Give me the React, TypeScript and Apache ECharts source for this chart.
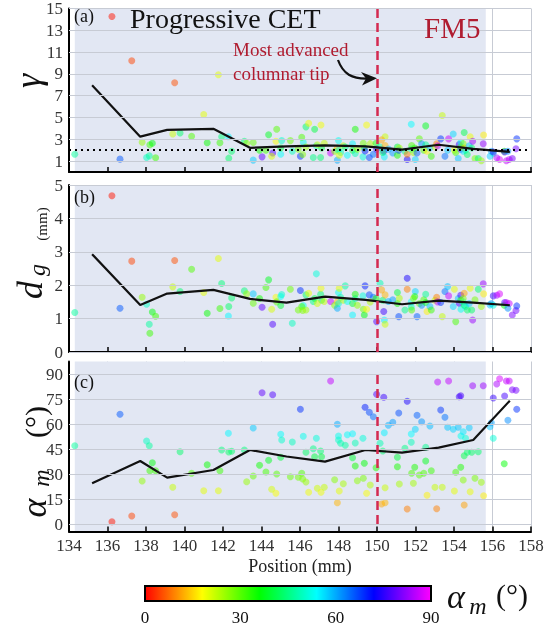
import React, { useEffect, useRef } from 'react';
import * as echarts from 'echarts';

// grain positions (mm) and measured quantities
const grainX = [134.3,136.23,136.65,137.26,137.8,138.03,138.17,138.2,138.33,138.5,
139.39,139.49,139.77,140.37,141.0,141.18,141.76,141.84,141.93,142.28,
142.3,142.45,143.11,143.23,143.57,143.57,144.03,144.58,143.9,144.37,
144.23,144.53,144.75,144.79,145.0,145.05,145.0,145.6,145.5,146.02,
146.17,146.09,145.91,146.14,146.31,146.31,146.45,146.69,146.76,146.85,
147.07,147.12,146.9,147.09,147.26,147.59,147.8,147.94,147.94,148.0,
148.0,148.11,148.04,148.25,148.35,148.46,148.73,148.73,148.87,148.87,
148.98,149.27,149.29,149.34,149.38,149.46,149.6,149.81,149.65,149.95,
149.98,150.35,150.38,150.16,150.3,150.42,150.24,150.42,150.59,150.82,
151.06,151.06,151.13,151.16,151.45,151.57,151.57,151.78,151.78,151.8,
151.89,151.99,151.96,152.08,152.2,152.32,152.43,152.53,152.53,152.6,
152.75,152.82,153.01,153.1,153.15,153.31,153.39,153.53,153.67,153.72,
153.96,154.02,154.09,154.22,154.27,154.35,154.35,154.36,154.48,154.53,
154.48,154.53,154.6,154.69,154.79,154.84,154.92,154.97,155.09,155.26,
155.42,155.52,155.54,155.87,155.94,156.04,156.04,156.22,156.37,156.61,
156.63,156.72,156.87,156.8,157.03,157.22,157.26];

const grainAlpha = [47,1.4,65.8,4.8,25.8,49.8,47,32,36.8,32,
22,5.6,43.4,30.4,20,35.6,20,32,44.4,54.4,
43.2,43.6,44.4,25.4,57.6,28.8,78.8,77.6,35.2,38.2,
31.2,20.8,18.4,30,53.8,50.4,40,49.2,28.4,68.8,
52.6,30.4,28,27,43,25.2,19,45.2,40.4,51.4,
43.8,40.4,21.4,19,22,85.8,26.6,59.8,12.8,52.8,
50.4,48.4,19.8,24.2,47.2,53.6,54.2,39.8,48.6,34.8,
26,51.4,27.4,36.4,70,18.4,67,64.4,23.4,33.8,
77.8,76,54.8,48.4,43.8,21.8,12,12.8,59.2,61,
40,34.4,66.6,24,45.4,73.6,9,54,49,30.4,
24.4,56.8,34,65.2,29.4,61.4,30.4,46,37.8,17.2,
58.8,32,22,9.2,85.2,68.4,22,64,58,85.8,
56.8,19.8,31,58,76.4,77,34,52.8,55.4,11.4,
26.4,41,51.4,43,57.8,19.4,43,83,27.4,43.4,
25,83,17,58.4,60.8,51.4,75.6,84,87.2,36.2,
76.8,85.8,85.8,62.2,80.6,80.2,68.8];

const grainGamma = [1.63,14.26,1.18,10.2,2.73,1.33,1.48,2.5,2.64,1.3,
3.49,8.18,3.58,3.27,5.28,2.68,8.93,2.68,3.24,3.24,
1.27,1.9,2.82,2.64,1.09,2.7,1.39,1.75,1.99,3.42,
1.99,1.45,2.82,3.93,1.63,2.88,2.2,1.9,2.88,1.45,
2.73,3.18,2.1,1.6,4.14,2.3,4.47,1.33,3.93,2.4,
1.33,2.2,2.5,4.32,2.64,1.75,1.9,1.09,2.2,2.88,
2.0,1.8,1.54,2.4,2.3,1.54,2.59,2.0,1.7,3.93,
2.1,1.39,2.64,2.2,1.92,4.32,1.33,1.63,2.6,2.64,
2.1,1.9,1.39,2.3,1.8,3.24,2.95,2.43,2.1,1.75,
2.28,1.54,2.0,2.2,1.9,1.15,1.63,4.38,2.1,2.43,
1.8,1.15,2.2,1.75,3.04,2.59,2.0,2.5,4.23,1.9,
2.2,1.45,2.3,2.59,2.4,3.04,5.19,1.45,2.0,3.04,
3.49,2.0,1.8,1.24,2.53,2.1,2.3,2.73,1.9,2.2,
2.6,3.63,2.0,1.6,2.4,3.24,2.2,2.82,1.24,1.24,
1.03,2.59,3.39,1.45,1.9,1.7,1.84,1.3,1.15,1.9,
1.84,1.03,1.15,1.9,1.24,2.14,3.04];

const grainDg = [1.18,4.68,1.31,2.72,1.64,1.43,0.83,0.56,1.2,1.07,
1.95,2.74,1.81,2.48,1.78,1.16,2.8,1.3,2.05,1.08,
1.36,1.62,1.83,1.74,1.74,1.46,1.34,0.83,1.6,2.16,
1.93,1.28,1.64,1.5,1.66,1.72,1.39,0.86,1.88,1.84,
1.39,1.36,1.26,1.24,1.71,1.26,1.76,1.51,1.6,2.34,
1.73,1.55,1.45,1.91,1.51,1.51,1.4,1.31,1.5,1.78,
1.45,1.64,1.91,1.55,1.98,1.51,1.11,1.45,1.6,1.73,
1.4,1.68,1.28,1.11,1.98,1.28,1.71,1.64,1.5,1.6,
0.91,1.21,0.96,2.06,1.55,0.83,1.86,1.71,1.51,1.56,
1.78,1.45,1.06,1.61,1.26,2.21,1.88,1.5,1.35,1.26,
1.6,1.81,1.66,1.06,1.45,1.4,1.56,1.73,1.48,1.21,
1.36,1.26,1.55,1.64,1.5,1.48,1.06,1.81,1.96,1.68,
1.36,1.88,0.91,1.6,1.46,1.7,1.55,1.28,1.5,1.76,
1.6,1.4,1.36,1.26,1.45,1.91,1.26,0.96,1.56,1.88,
1.36,2.04,1.74,1.41,1.45,1.4,1.68,1.7,1.74,1.4,
1.48,1.48,1.45,1.31,1.11,1.24,1.38];

// binned means
const meanX = [135.2,137.7,139.1,141.5,143.4,145.3,147.3,149.4,151.3,153.2,155.0,156.9];
const meanGamma = [7.95,3.24,3.87,3.96,2.22,2.35,2.44,2.35,2.05,2.5,2.12,1.84];
const meanDg = [2.93,1.41,1.75,1.86,1.59,1.48,1.66,1.56,1.43,1.54,1.48,1.40];
const meanAlpha = [24.4,37.8,27.8,32.4,44.4,40.5,37.4,44.4,42.8,45.8,50.4,74];

const gammaTicks = [1,3,5,7,9,11,13,15];
const dgTicks = [0,1,2,3,4,5];
const alphaTicks = [0,15,30,45,60,75,90];
const colorbarTicks = [0,30,60,90];

const tipPosition = 150.03;
const shadeStart = 134.3;
const shadeEnd = 155.65;
const gammaRef = 2;

const SERIF = 'Liberation Serif';
const GRID = '#c7cbd4';
const SHADE = '#e2e7f3';
const RED = '#d42a50';
const DARKRED = '#b01c30';

function App() {
  const ref = useRef<HTMLDivElement>(null);
  useEffect(() => {
    if (!ref.current) return;
    const chart = echarts.init(ref.current, null, { renderer: 'svg' });

    const grids = [
      { left: 69, top: 5, width: 462, height: 167 },
      { left: 69, top: 185, width: 462, height: 167 },
      { left: 69, top: 361.5, width: 462, height: 170 },
    ];

    const near = (v: number, list: number[]) => list.some((t) => Math.abs(v - t) < 1e-6);

    const xAxes = [0, 1, 2].map((i) => ({
      type: 'value', gridIndex: i, min: 134, max: 158, interval: 2, z: 1,
      axisLine: { onZero: false, lineStyle: { color: '#000', width: 2 } },
      axisTick: { inside: true, length: 5, lineStyle: { color: '#000', width: 1.5 } },
      splitLine: { show: true, lineStyle: { color: GRID, width: 1 } },
      axisLabel: { show: i === 2, fontFamily: SERIF, fontSize: 17, color: '#333', margin: 5 },
      name: i === 2 ? 'Position (mm)' : '',
      nameLocation: 'middle', nameGap: 25,
      nameTextStyle: { fontFamily: SERIF, fontSize: 18, color: '#222' },
    }));

    const yCfg = [
      { min: 0, max: 15, interval: 1, ticks: gammaTicks },
      { min: 0, max: 5, interval: 1, ticks: dgTicks },
      { min: -4.5, max: 97.5, interval: 1.5, ticks: alphaTicks },
    ];
    const yAxes = yCfg.map((c, i) => ({
      type: 'value', gridIndex: i, min: c.min, max: c.max, interval: c.interval, z: 1,
      axisLine: { show: true, onZero: false, lineStyle: { color: '#000', width: 2 } },
      axisTick: { show: false },
      splitLine: { show: false },
      axisLabel: {
        fontFamily: SERIF, fontSize: 17, color: '#333', margin: 6,
        formatter: (v: number) => (near(v, c.ticks) ? String(Math.round(v)) : ''),
      },
    }));

    const panelValues = [grainGamma, grainDg, grainAlpha];
    const panelMeans = [meanGamma, meanDg, meanAlpha];
    const series: any[] = [];
    const scatterIdx: number[] = [];

    for (let i = 0; i < 3; i++) {
      // background shade + horizontal grid lines
      series.push({
        type: 'line', xAxisIndex: i, yAxisIndex: i, data: [], silent: true, z: 0,
        markArea: { silent: true, itemStyle: { color: SHADE }, data: [[{ xAxis: shadeStart }, { xAxis: shadeEnd }]] },
      });
      series.push({
        type: 'line', xAxisIndex: i, yAxisIndex: i, data: [], silent: true, z: 1,
        markLine: {
          silent: true, symbol: 'none', label: { show: false },
          lineStyle: { color: GRID, width: 1, type: 'solid' },
          data: yCfg[i].ticks.map((v) => ({ yAxis: v })),
        },
      });
      scatterIdx.push(series.length);
      series.push({
        type: 'scatter', xAxisIndex: i, yAxisIndex: i, z: 2, symbolSize: 7,
        itemStyle: { opacity: 0.5 },
        data: grainX.map((x, k) => [x, panelValues[i][k], grainAlpha[k]]),
      });
      series.push({
        type: 'line', xAxisIndex: i, yAxisIndex: i, z: 3, showSymbol: false, symbol: 'none',
        lineStyle: { color: '#111', width: 2.2 },
        data: meanX.map((x, k) => [x, panelMeans[i][k]]),
      });
      const marks: any[] = [];
      if (i === 0) {
        marks.push({ yAxis: gammaRef, lineStyle: { color: '#000', width: 2, type: [2, 4] } });
      }
      if (i === 2) {
        marks.push([{ coord: [tipPosition, 0] }, { coord: [tipPosition, 90] }]);
      } else {
        marks.push({ xAxis: tipPosition });
      }
      series.push({
        type: 'line', xAxisIndex: i, yAxisIndex: i, data: [], silent: true, z: 4,
        markLine: {
          silent: true, symbol: 'none', label: { show: false },
          lineStyle: { color: RED, width: 2.5, type: [9, 5] },
          data: marks,
        },
      });
    }

    const txt = (text: string, x: number, y: number, size: number, extra: any = {}) => ({
      type: 'text', x, y, rotation: extra.rotation || 0, z: 10,
      style: {
        text, fontFamily: SERIF, fontSize: size, fill: extra.fill || '#111',
        fontStyle: extra.italic ? 'italic' : 'normal',
        textAlign: extra.align || 'center', textVerticalAlign: 'middle',
        align: extra.align || 'center', verticalAlign: 'middle',
      },
    });
    const R = Math.PI / 2;

    const graphic: any[] = [
      txt('(a)', 74, 15.5, 18, { align: 'left' }),
      txt('(b)', 74, 197, 18, { align: 'left' }),
      txt('(c)', 74, 382, 18, { align: 'left' }),
      txt('Progressive CET', 130, 18, 28, { align: 'left' }),
      txt('Most advanced', 233, 49, 19, { align: 'left', fill: DARKRED }),
      txt('columnar tip', 233, 73, 19, { align: 'left', fill: DARKRED }),
      txt('FM5', 424, 28, 29, { align: 'left', fill: DARKRED }),
      {
        type: 'bezierCurve', z: 10,
        shape: { x1: 338, y1: 60, cpx1: 343, cpy1: 74, cpx2: 352, cpy2: 79, x2: 368, y2: 78.5 },
        style: { stroke: '#111', lineWidth: 2.2, fill: null },
      },
      {
        type: 'polygon', z: 10,
        shape: { points: [[377, 78.3], [361, 72], [366, 78.5], [362, 85.5]] },
        style: { fill: '#111' },
      },
      // y-axis titles
      txt('γ', 28, 81, 36, { italic: true, rotation: R }),
      txt('d', 30, 290, 36, { italic: true, rotation: R }),
      txt('g', 37, 270, 24, { italic: true, rotation: R }),
      txt('(mm)', 42, 224, 15, { rotation: R }),
      txt('α', 34, 508, 36, { italic: true, rotation: R }),
      txt('m', 41, 478, 24, { italic: true, rotation: R }),
      txt('(°)', 35, 422, 30, { rotation: R }),
      // colorbar
      {
        type: 'rect', z: 10,
        shape: { x: 145, y: 586, width: 286, height: 15 },
        style: { fill: null, stroke: '#000', lineWidth: 2 },
      },
      ...colorbarTicks.map((v) => txt(String(v), 145 + (v / 90) * 286, 617, 17)),
      txt('α', 456, 596, 34, { italic: true }),
      txt('m', 478, 606, 24, { italic: true }),
      txt('(°)', 512, 594, 30),
    ];

    chart.setOption({
      animation: false,
      grid: grids,
      xAxis: xAxes,
      yAxis: yAxes,
      visualMap: {
        type: 'continuous', min: 0, max: 90, dimension: 2, seriesIndex: scatterIdx,
        orient: 'horizontal', left: 145, top: 586, itemWidth: 15, itemHeight: 286,
        padding: 0, calculable: false, showLabel: false, text: null,
        inRange: { color: ['#ff0000', '#ffff00', '#00ff00', '#00ffff', '#0000ff', '#ff00ff'] },
      },
      series,
      graphic,
    });
    return () => chart.dispose();
  }, []);
  return <div ref={ref} style={{ position: 'fixed', left: 0, top: 0, width: 550, height: 630 }} />;
}

export default App;
